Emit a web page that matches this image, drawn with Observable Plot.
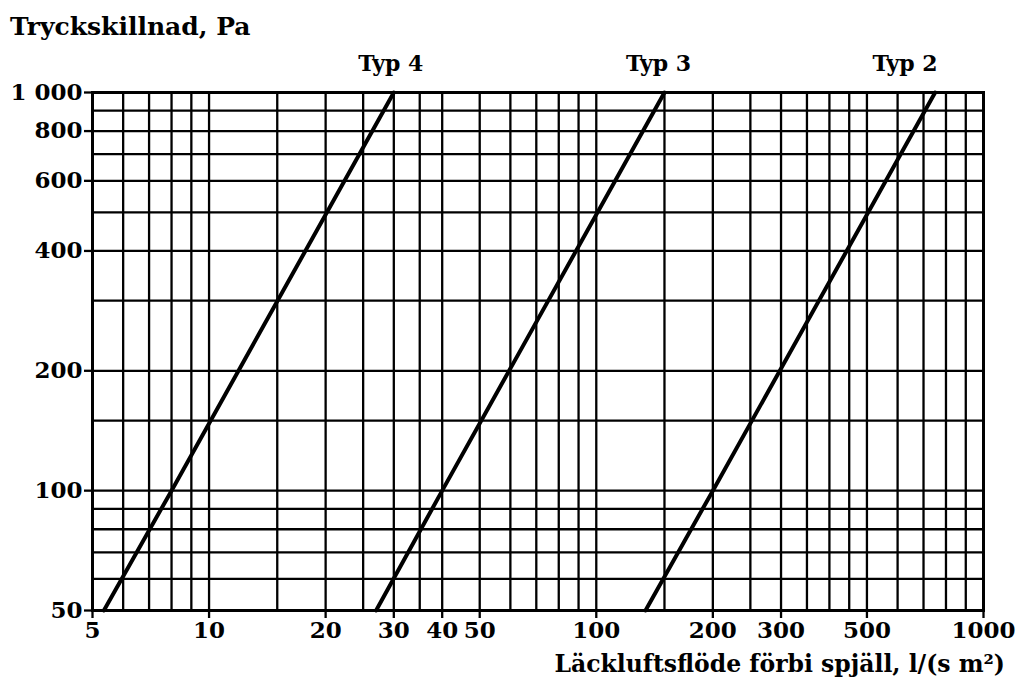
<!DOCTYPE html>
<html><head><meta charset="utf-8">
<script src="https://cdn.jsdelivr.net/npm/d3@7"></script>
<script src="https://cdn.jsdelivr.net/npm/@observablehq/plot@0.6"></script>
<style>
body{margin:0;background:#fff;font-family:"DejaVu Serif",serif;font-weight:bold;color:#000;}
#wrap{width:1021px;height:693px;position:relative;overflow:hidden;background:#fff}
#yt{height:46px;font-size:25px;line-height:24px;padding-left:10px;box-sizing:border-box;padding-top:15px;white-space:nowrap}
#chart svg{display:block}
#xt{font-size:23.5px;line-height:24px;text-align:right;padding-right:16px;margin-top:2px;white-space:nowrap}
</style></head>
<body><div id="wrap"><div id="yt">Tryckskillnad, Pa</div><div id="chart"></div><div id="xt">Läckluftsflöde förbi spjäll, l/(s m²)</div></div>
<script>
const pressure = [50, 100, 1000];
const flowTyp4 = [5.35, 8, 30];
const flowTyp3 = [27, 40, 150];
const flowTyp2 = [134, 200, 750];
const seriesNames = ["Typ 4", "Typ 3", "Typ 2"];
const xTicks = [5, 10, 20, 30, 40, 50, 100, 200, 300, 500, 1000];
const yTicks = [50, 100, 200, 400, 600, 800, 1000];
const xGrid = [5, 6, 7, 8, 9, 10, 15, 20, 25, 30, 35, 40, 50, 60, 70, 80, 90, 100, 150, 200, 250, 300, 350, 400, 450, 500, 600, 700, 800, 900, 1000];
const yGrid = [50, 60, 70, 80, 90, 100, 150, 200, 300, 400, 500, 600, 700, 800, 900, 1000];

const flows = [flowTyp4, flowTyp3, flowTyp2];
const rows = seriesNames.flatMap((name, i) => pressure.map((p, j) => ({name, p, q: flows[i][j]})));
const tops = seriesNames.map((name, i) => ({name, p: pressure[pressure.length - 1], q: flows[i][flows[i].length - 1]}));
const labelDx = [-3, -6, -30];

const chart = Plot.plot({
  width: 1021, height: 604,
  marginTop: 46, marginBottom: 40, marginLeft: 92, marginRight: 38,
  x: {type: "log", domain: [5, 1000]},
  y: {type: "log", domain: [50, 1000]},
  style: {fontFamily: "DejaVu Serif", fontSize: "23px", fontWeight: "bold", color: "black", background: "white", overflow: "visible"},
  marks: [
    Plot.ruleX(xGrid, {stroke: "black", strokeWidth: 2.3}),
    Plot.ruleY(yGrid, {stroke: "black", strokeWidth: 2.3}),
    Plot.line(rows, {x: "q", y: "p", z: "name", stroke: "black", strokeWidth: 4}),
    Plot.frame({stroke: "black", strokeWidth: 3}),
    Plot.axisX(xTicks, {tickSize: 8, tickFormat: () => "", label: null, strokeWidth: 2.3}),
    Plot.text(xTicks, {x: d => d, text: d => String(d), frameAnchor: "bottom", lineAnchor: "top", dy: 11, fontSize: 23}),
    Plot.axisY(yTicks, {tickSize: 8, tickPadding: 2, tickFormat: d => d === 1000 ? "1 000" : String(d), label: null, strokeWidth: 2.3, fontSize: 23}),
    ...tops.map((t, i) => Plot.text([t], {x: "q", y: "p", text: "name", dy: -22, dx: labelDx[i], lineAnchor: "bottom", fontSize: 22}))
  ]
});
document.getElementById("chart").appendChild(chart);
</script></body></html>
